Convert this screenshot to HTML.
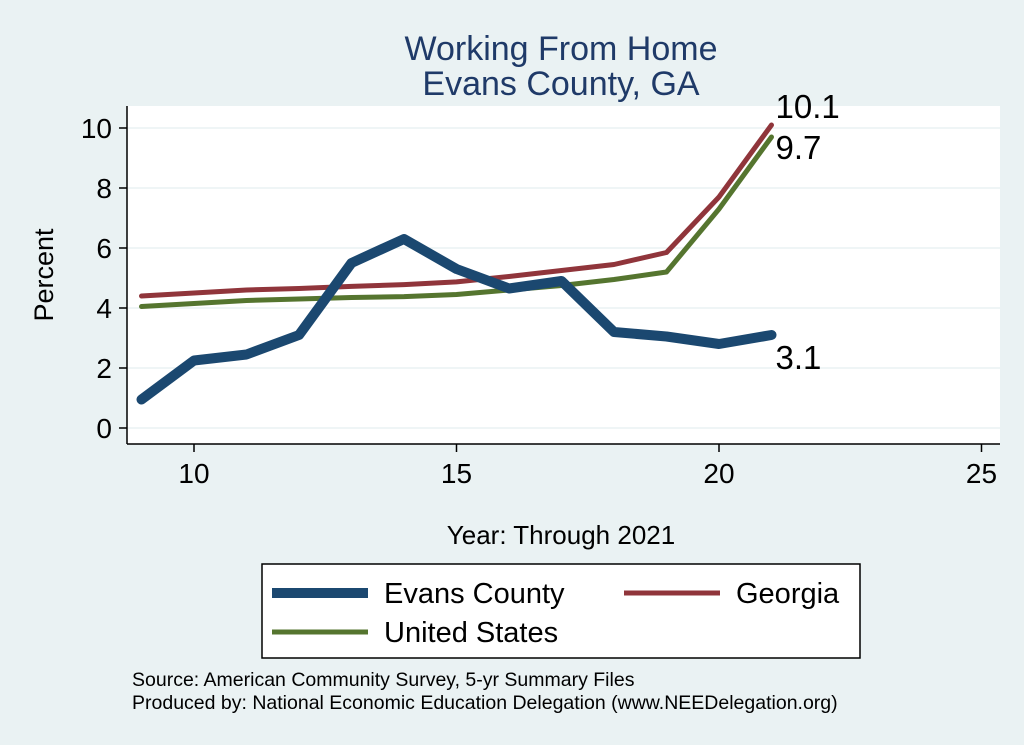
<!DOCTYPE html>
<html><head><meta charset="utf-8"><style>
body{margin:0;background:#eaf2f3;}
svg{display:block;font-family:"Liberation Sans",sans-serif;}
</style></head><body>
<svg width="1024" height="745">
<rect x="0" y="0" width="1024" height="745" fill="#eaf2f3"/>
<text x="561" y="60" font-size="34" fill="#1f3a68" text-anchor="middle">Working From Home</text>
<text x="561" y="95" font-size="34" fill="#1f3a68" text-anchor="middle">Evans County, GA</text>
<rect x="127" y="106" width="873" height="338" fill="#fff"/>
<g id="grid"></g>
<g id="axes"></g>
<g id="series"></g>
<text x="53" y="275" font-size="27" text-anchor="middle" transform="rotate(-90 53 275)">Percent</text>
<text x="561" y="544" font-size="26" text-anchor="middle">Year: Through 2021</text>
<g>
<rect x="262" y="564" width="598" height="94" fill="#fff" stroke="#000" stroke-width="1.5"/>
<line x1="272" y1="593" x2="368" y2="593" stroke="#1b4870" stroke-width="10"/>
<text x="384" y="603" font-size="29">Evans County</text>
<line x1="624" y1="593" x2="720" y2="593" stroke="#90353b" stroke-width="5"/>
<text x="736" y="603" font-size="29">Georgia</text>
<line x1="272" y1="632" x2="368" y2="632" stroke="#55752f" stroke-width="5"/>
<text x="384" y="642" font-size="29">United States</text>
</g>
<text x="132" y="686" font-size="19.5">Source: American Community Survey, 5-yr Summary Files</text>
<text x="132" y="709" font-size="19.5">Produced by: National Economic Education Delegation (www.NEEDelegation.org)</text>
</svg>
<script>
const years=[9,10,11,12,13,14,15,16,17,18,19,20,21];
const evans=[0.95,2.25,2.45,3.1,5.5,6.3,5.3,4.65,4.9,3.2,3.05,2.8,3.1];
const georgia=[4.4,4.5,4.6,4.65,4.72,4.78,4.87,5.05,5.25,5.45,5.85,7.7,10.1];
const us=[4.05,4.15,4.25,4.3,4.35,4.38,4.45,4.6,4.75,4.95,5.2,7.3,9.7];
const xTicks=[10,15,20,25];
const yTicks=[0,2,4,6,8,10];
const NS='http://www.w3.org/2000/svg';
const X=v=>194+(v-10)*52.5;
const Y=v=>428-v*30;
function mk(t,a,p){const e=document.createElementNS(NS,t);for(const k in a)e.setAttribute(k,a[k]);p.appendChild(e);return e;}
const grid=document.getElementById('grid'),axes=document.getElementById('axes'),ser=document.getElementById('series');
yTicks.forEach(v=>{
 const g=mk('line',{x1:127,x2:1000,y1:Y(v),y2:Y(v),stroke:'#eaf2f3','stroke-width':1.5},grid);
 
 
 const t=mk('line',{x1:119,x2:127,y1:Y(v),y2:Y(v),stroke:'#000','stroke-width':1.5},axes);
 
 
 const l=mk('text',{x:112,y:Y(v)+10,'font-size':28,'text-anchor':'end'},axes);l.textContent=v;
 
 
});
xTicks.forEach(v=>{
 const t=mk('line',{x1:X(v),x2:X(v),y1:444,y2:452,stroke:'#000','stroke-width':1.5},axes);
 
 
 const l=mk('text',{x:X(v),y:483,'font-size':28,'text-anchor':'middle'},axes);l.textContent=v;
 
 
});
const ya=mk('line',{x1:127,x2:127,y1:106,y2:444,stroke:'#000','stroke-width':1.5},axes);


const xa=mk('line',{x1:127,x2:1000,y1:444,y2:444,stroke:'#000','stroke-width':1.5},axes);


function line(vals,color,w,name){
 const p=mk('polyline',{points:vals.map((v,i)=>X(years[i])+','+Y(v)).join(' '),fill:'none',stroke:color,'stroke-width':w,'stroke-linejoin':'round','stroke-linecap':'round'},ser);
 
 
}
line(us,'#55752f',5,'line-united-states');
line(georgia,'#90353b',5,'line-georgia');
line(evans,'#1b4870',10,'line-evans-county');
function lab(vals,dy,name){
 const n=vals.length-1;
 const t=mk('text',{x:X(years[n])+4,y:Y(vals[n])+dy,'font-size':33},ser);
 t.textContent=vals[n].toFixed(1);
 
 
}
lab(georgia,-7,'label-georgia');
lab(us,22,'label-us');
lab(evans,34,'label-evans');
</script>
</body></html>
